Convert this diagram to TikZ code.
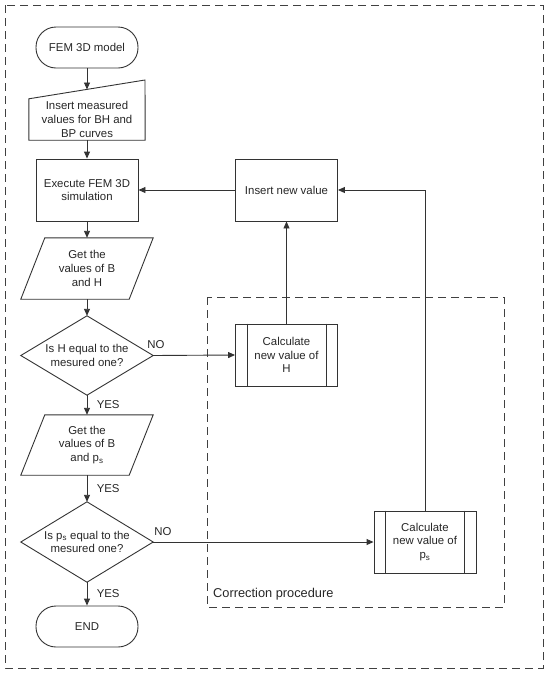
\documentclass[tikz,border=0pt]{standalone}
\usepackage{fontspec}
\setmainfont{Liberation Sans}
\usetikzlibrary{arrows.meta,calc}
\tikzset{
 ln/.style={draw=black!80, line width=0.9pt},
 arr/.style={ln, -{Triangle[length=7pt,width=6pt]}},
 box/.style={ln, rectangle, minimum width=102pt, minimum height=62pt, align=center, inner sep=0pt},
 term/.style={ln, rectangle, rounded corners=20pt, minimum width=102pt, minimum height=41pt, align=center, inner sep=0pt},
 shp/.style={rectangle, inner sep=0pt, align=center},
 dsh/.style={draw=black!75, line width=0.9pt, dash pattern=on 8pt off 5pt}
}
\begin{document}
\begin{tikzpicture}[x=1pt,y=-1pt, font=\fontsize{11.4}{13.8}\selectfont, text=black!85]
\useasboundingbox (0,0) rectangle (550,673);
\draw[dsh] (5,5) rectangle (543,668);
\draw[dsh] (207,297) rectangle (504,607);
\node[anchor=base west, inner sep=0pt, font=\fontsize{12.8}{15}\selectfont] (corr) at (213,597) {Correction procedure};

% left column
\node[term] (fem) at (87,47.5) {FEM 3D model};
\node[shp, minimum width=116pt, minimum height=41pt] (ins) at (87,119.5) {Insert measured\\values for BH and\\BP curves};
\draw[ln] (ins.south west) -- (ins.south east) -- (145,80) -- (ins.north west) -- cycle;
\coordinate (instop) at (87,89.5);

\node[box] (exe) at (87,190) {Execute FEM 3D\\simulation};

\node[shp, minimum width=132pt, minimum height=61pt] (pg1) at (87,268.5) {Get the\\values of B\\and H};
\draw[ln] (pg1.south west) -- ($(pg1.south east)+(-24,0)$) -- (pg1.north east) -- ($(pg1.north west)+(24,0)$) -- cycle;

\node[shp, minimum width=132pt, minimum height=79pt] (dm1) at (87,355.5) {Is H equal to the\\mesured one?};
\draw[ln] (dm1.north) -- (dm1.east) -- (dm1.south) -- (dm1.west) -- cycle;

\node[shp, minimum width=132pt, minimum height=60pt] (pg2) at (87,445) {Get the\\values of B\\and p\textsubscript{s}};
\draw[ln] (pg2.south west) -- ($(pg2.south east)+(-24,0)$) -- (pg2.north east) -- ($(pg2.north west)+(24,0)$) -- cycle;

\node[shp, minimum width=132pt, minimum height=80pt] (dm2) at (87,542) {Is p\textsubscript{s} equal to the\\mesured one?};
\draw[ln] (dm2.north) -- (dm2.east) -- (dm2.south) -- (dm2.west) -- cycle;

\node[term] (fin) at (87,626.5) {END};

% right column
\node[box] (newval) at (286.5,190) {Insert new value};
\node[box] (calcH) at (286.5,355) {Calculate\\new value of\\H};
\draw[ln] ($(calcH.north west)+(12,0)$) -- ($(calcH.south west)+(12,0)$);
\draw[ln] ($(calcH.north east)+(-12,0)$) -- ($(calcH.south east)+(-12,0)$);
\node[box] (calcP) at (425,542) {Calculate\\new value of\\p\textsubscript{s}};
\draw[ln] ($(calcP.north west)+(12,0)$) -- ($(calcP.south west)+(12,0)$);
\draw[ln] ($(calcP.north east)+(-12,0)$) -- ($(calcP.south east)+(-12,0)$);

% connectors
\draw[arr] (fem) -- (instop);
\draw[arr] (ins) -- (exe);
\draw[arr] (exe) -- (pg1);
\draw[arr] (pg1) -- (dm1);
\draw[arr] (dm1.south) -- node[anchor=west, xshift=6pt] (yes1) {YES} (pg2.north);
\draw[arr] (pg2.south) -- node[anchor=west, xshift=6pt] (yes2) {YES} (dm2.north);
\draw[arr] (dm2.south) -- node[anchor=west, xshift=6pt] (yes3) {YES} (fin.north);
\draw[arr] (dm1.east) -- (calcH.west);
\node (no1) at (156,345) {NO};
\draw[arr] (dm2.east) -- (calcP.west);
\node (no2) at (163,532) {NO};
\draw[arr] (calcH) -- (newval);
\draw[arr] (calcP.north) |- (newval.east);
\draw[arr] (newval) -- (exe);
\end{tikzpicture}
\end{document}
